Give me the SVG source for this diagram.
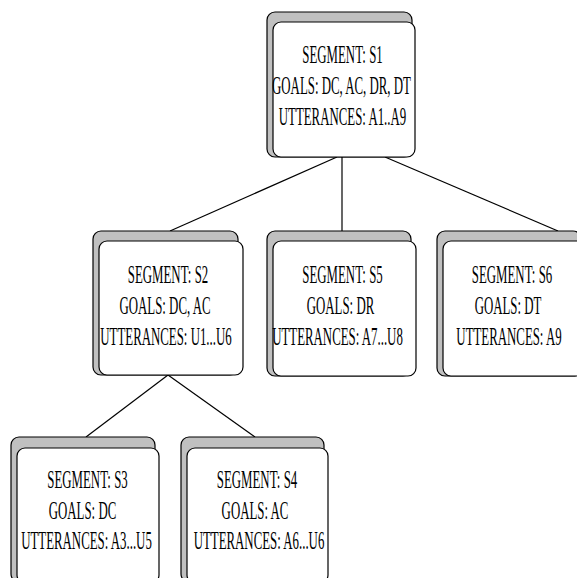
<svg xmlns="http://www.w3.org/2000/svg" width="577" height="578" viewBox="0 0 577 578">
<style>
.back{fill:#c0c0c0;stroke:#000;stroke-width:1.2}
.front{fill:#fff;stroke:#000;stroke-width:1.2}
.t{font-family:"Liberation Serif","Times New Roman",serif;font-size:24.5px;fill:#000;text-anchor:middle}
.c{stroke:#000;stroke-width:1.2;fill:none}
</style>
<rect width="577" height="578" fill="#fff"/>
<g id="connectors">
<line class="c" x1="337" y1="157" x2="170" y2="231"/>
<line class="c" x1="342" y1="157" x2="342" y2="231"/>
<line class="c" x1="385" y1="157" x2="558" y2="231"/>
<line class="c" x1="168" y1="375" x2="86" y2="437"/>
<line class="c" x1="168" y1="375" x2="255" y2="437"/>
</g>
<g id="S1">
<rect class="back" x="267" y="12" width="145" height="145" rx="8"/>
<rect class="front" x="273" y="22" width="142" height="135" rx="8"/>
<text class="t" transform="translate(342.5,63) scale(0.525,1)">SEGMENT: S1</text>
<text class="t" transform="translate(341.5,94) scale(0.525,1)">GOALS: DC, AC, DR, DT</text>
<text class="t" transform="translate(342.5,125) scale(0.525,1)">UTTERANCES: A1..A9</text>
</g>
<g id="S2">
<rect class="back" x="93" y="231" width="145" height="144" rx="8"/>
<rect class="front" x="99" y="241" width="144" height="134" rx="8"/>
<text class="t" transform="translate(168,283) scale(0.525,1)">SEGMENT: S2</text>
<text class="t" transform="translate(165,314) scale(0.525,1)">GOALS: DC, AC</text>
<text class="t" transform="translate(166,345) scale(0.525,1)">UTTERANCES: U1...U6</text>
</g>
<g id="S5">
<rect class="back" x="267" y="231" width="144" height="145" rx="8"/>
<rect class="front" x="273" y="241" width="143" height="135" rx="8"/>
<text class="t" transform="translate(342.5,283) scale(0.525,1)">SEGMENT: S5</text>
<text class="t" transform="translate(340.5,314) scale(0.525,1)">GOALS: DR</text>
<text class="t" transform="translate(337.5,345) scale(0.525,1)">UTTERANCES: A7...U8</text>
</g>
<g id="S6">
<rect class="back" x="437" y="231" width="144" height="145" rx="8"/>
<rect class="front" x="443" y="241" width="143" height="135" rx="8"/>
<text class="t" transform="translate(512,283) scale(0.525,1)">SEGMENT: S6</text>
<text class="t" transform="translate(508,314) scale(0.525,1)">GOALS: DT</text>
<text class="t" transform="translate(509,345) scale(0.525,1)">UTTERANCES: A9</text>
</g>
<g id="S3">
<rect class="back" x="11" y="437" width="144" height="145" rx="8"/>
<rect class="front" x="17" y="448" width="142" height="135" rx="8"/>
<text class="t" transform="translate(87.5,488) scale(0.525,1)">SEGMENT: S3</text>
<text class="t" transform="translate(82.5,519) scale(0.525,1)">GOALS: DC</text>
<text class="t" transform="translate(86.5,549) scale(0.525,1)">UTTERANCES: A3...U5</text>
</g>
<g id="S4">
<rect class="back" x="181" y="437" width="143" height="145" rx="8"/>
<rect class="front" x="187" y="448" width="141" height="135" rx="8"/>
<text class="t" transform="translate(257,488) scale(0.525,1)">SEGMENT: S4</text>
<text class="t" transform="translate(255,519) scale(0.525,1)">GOALS: AC</text>
<text class="t" transform="translate(259,549) scale(0.525,1)">UTTERANCES: A6...U6</text>
</g>
</svg>
